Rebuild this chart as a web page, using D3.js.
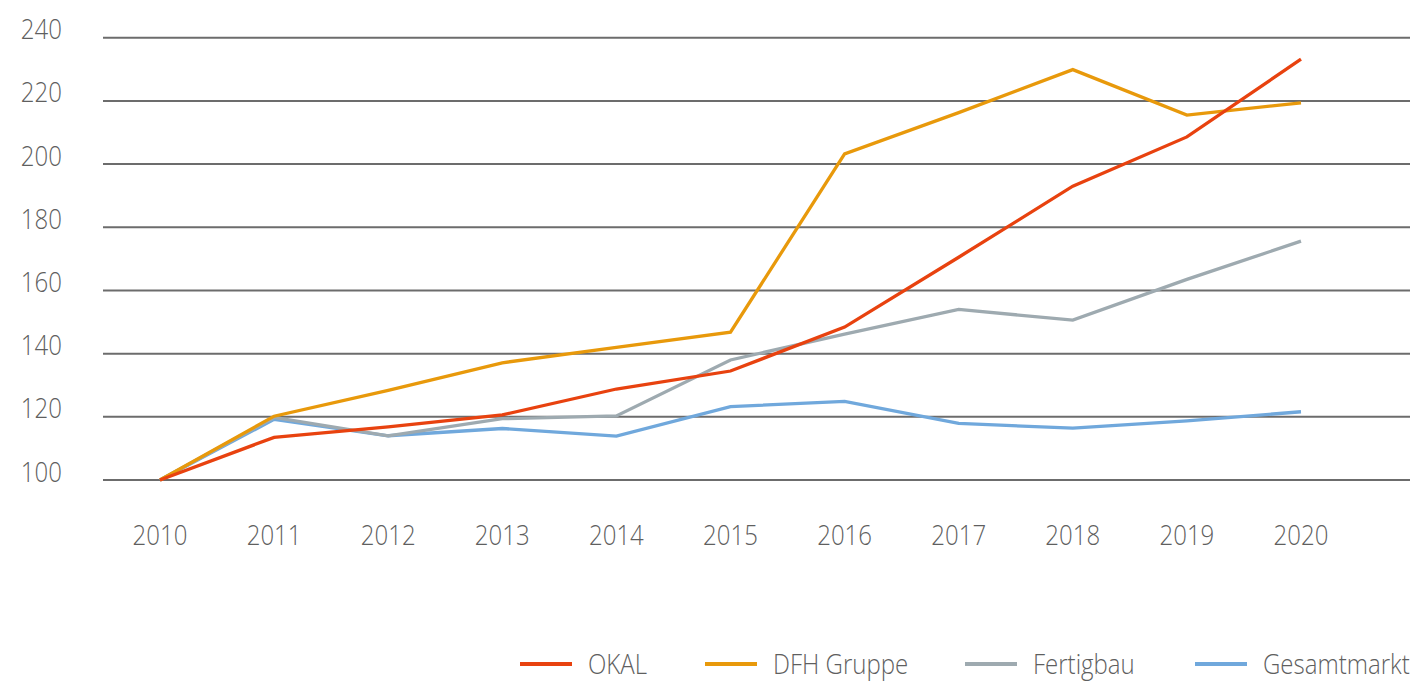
<!DOCTYPE html>
<html>
<head>
<meta charset="utf-8">
<script src="https://cdn.jsdelivr.net/npm/d3@7"></script>
<style>
  html, body { margin: 0; padding: 0; background: #ffffff; }
  svg text { font-family: "Open Sans", "DejaVu Sans Condensed", sans-serif; font-weight: 300; fill: #5f5f5f; }
</style>
</head>
<body>
<div id="chart"></div>
<script>
// Index values (2010 = 100)
const years = ["2010", "2011", "2012", "2013", "2014", "2015", "2016", "2017", "2018", "2019", "2020"];
const okal = [100, 113.5, 116.8, 120.6, 128.8, 134.5, 148.4, 170.5, 193.0, 208.6, 233.2];
const dfhGruppe = [100, 120.2, 128.4, 137.1, 142.0, 146.8, 203.2, 216.3, 229.9, 215.5, 219.4];
const fertigbau = [100, 119.8, 114.0, 119.4, 120.3, 138.0, 146.2, 154.0, 150.6, 163.5, 175.6];
const gesamtmarkt = [100, 119.2, 114.0, 116.3, 113.9, 123.2, 124.9, 117.9, 116.4, 118.7, 121.6];
const yTicks = [100, 120, 140, 160, 180, 200, 220, 240];

const seriesNames = ["OKAL", "DFH Gruppe", "Fertigbau", "Gesamtmarkt"];
const seriesValues = [okal, dfhGruppe, fertigbau, gesamtmarkt];
const seriesColors = ["#e8420f", "#e8990b", "#9eaab0", "#70a8dc"];

const width = 1420;
const height = 683;
const fontSize = 27;
const squeeze = 0.89; // the original face is a condensed one

const svg = d3.select("#chart")
    .append("svg")
    .attr("width", width)
    .attr("height", height);

// Scales
const x = d3.scalePoint()
    .domain(years)
    .range([160, 1301]);

const y = d3.scaleLinear()
    .domain([100, 240])
    .range([480, 37.7]);

// Helper: narrow text placed at (tx, ty)
function narrowText(parent, tx, ty, anchor, label) {
    return parent.append("text")
        .attr("transform", `translate(${tx},${ty}) scale(${squeeze},1)`)
        .attr("text-anchor", anchor)
        .attr("font-size", fontSize)
        .text(label);
}

// Horizontal gridlines
svg.append("g")
    .selectAll("line")
    .data(yTicks)
    .join("line")
    .attr("x1", 103)
    .attr("x2", 1410)
    .attr("y1", d => y(d))
    .attr("y2", d => y(d))
    .attr("stroke", "#6c6c6c")
    .attr("stroke-width", 2);

// Y labels sit just above their gridline
const yLabels = svg.append("g");
yTicks.forEach(d => narrowText(yLabels, 62, y(d) + 1.5, "end", d));

// X labels
const xLabels = svg.append("g");
years.forEach(d => narrowText(xLabels, x(d), 545, "middle", d));

// Lines, drawn back to front
const line = d3.line()
    .x((d, i) => x(years[i]))
    .y(d => y(d));

const drawOrder = [3, 2, 1, 0];
drawOrder.forEach(k => {
    svg.append("path")
        .datum(seriesValues[k])
        .attr("d", line)
        .attr("fill", "none")
        .attr("stroke", seriesColors[k])
        .attr("stroke-width", 3.3)
        .attr("stroke-linejoin", "miter");
});

// Legend
const legendX = [520, 705, 965, 1195];
const legend = svg.append("g");
seriesNames.forEach((name, i) => {
    legend.append("line")
        .attr("x1", legendX[i])
        .attr("x2", legendX[i] + 52)
        .attr("y1", 664)
        .attr("y2", 664)
        .attr("stroke", seriesColors[i])
        .attr("stroke-width", 4);
    narrowText(legend, legendX[i] + 68, 674, "start", name);
});
</script>
</body>
</html>
